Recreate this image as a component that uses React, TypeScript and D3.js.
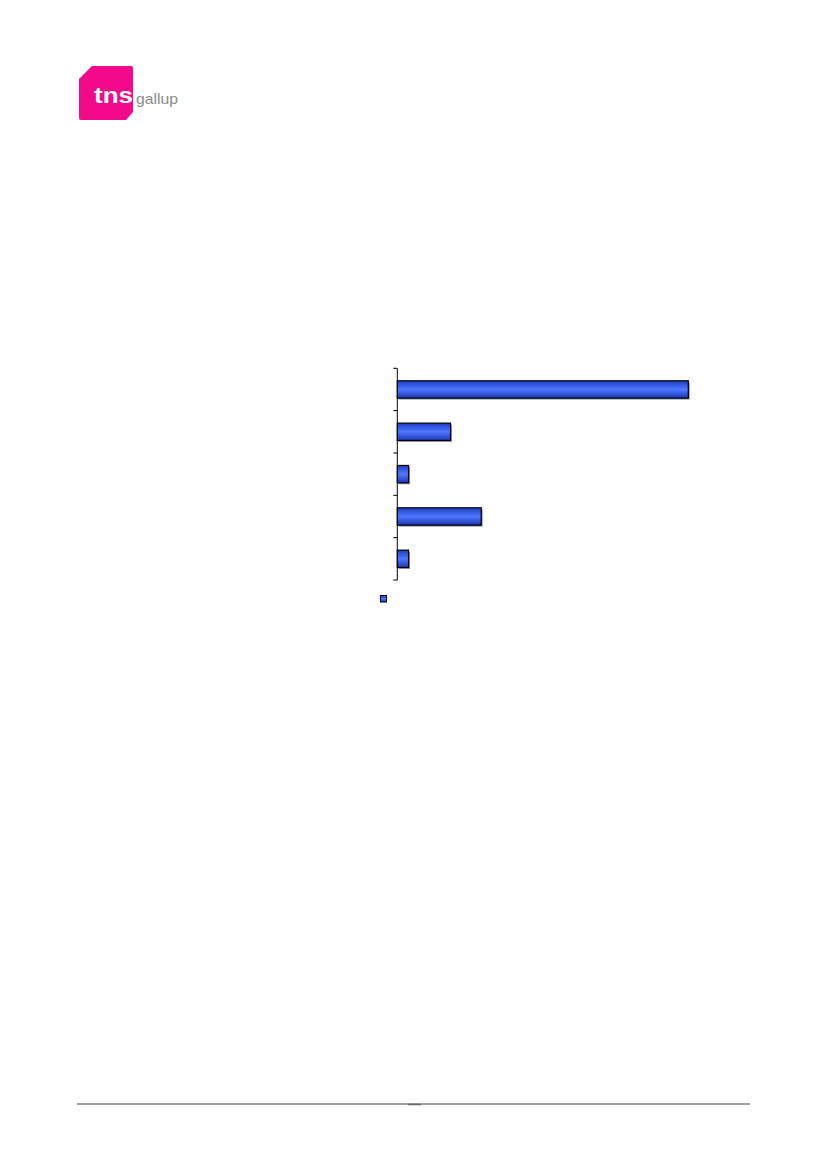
import React from "react";
import * as d3 from "d3";

const categories = ["c1", "c2", "c3", "c4", "c5"];
const values = [64.5, 11.8, 2.5, 18.6, 2.5];
const seriesName = [""];

const W = 826;
const H = 1169;

export default function App() {
  const axisX = 397.3;
  const top = 368.3;
  const bottom = 580;
  const x = d3.scaleLinear().domain([0, 100]).range([axisX, axisX + 451.2]);
  const y = d3
    .scaleBand<string>()
    .domain(categories)
    .range([top, bottom])
    .paddingInner(0.59)
    .paddingOuter(0.295);
  const step = (bottom - top) / categories.length;
  const tickYs = d3.range(categories.length + 1).map((i) => top + i * step);

  return (
    <svg
      width={W}
      height={H}
      style={{ position: "absolute", left: 0, top: 0 }}
      xmlns="http://www.w3.org/2000/svg"
    >
      <defs>
        <linearGradient id="barGrad" x1="0" y1="0" x2="0" y2="1">
          <stop offset="0%" stopColor="#1e3cc4" />
          <stop offset="50%" stopColor="#4f78ff" />
          <stop offset="100%" stopColor="#1a36b4" />
        </linearGradient>
      </defs>
      <rect x={0} y={0} width={W} height={H} fill="#ffffff" />

      {/* logo */}
      <path
        d="M92,66 L131,66 Q133,66 133,68 L133,112 L126,120 L81,120 Q79,120 79,118 L79,79 Z"
        fill="#f20a8a"
      />
      <text
        x={94}
        y={103}
        fill="#ffffff"
        fontFamily="Liberation Sans, Arial, sans-serif"
        fontWeight="bold"
        fontSize={22}
        textLength={39}
        lengthAdjust="spacingAndGlyphs"
      >
        tns
      </text>
      <text
        x={136}
        y={104}
        fill="#8a8a8a"
        fontFamily="Liberation Sans Narrow, Liberation Sans, Arial, sans-serif"
        fontSize={15}
        textLength={42}
        lengthAdjust="spacingAndGlyphs"
      >
        gallup
      </text>

      {/* bars */}
      {categories.map((c, i) => {
        const by = y(c) as number;
        const bw = x(values[i]) - x(0);
        return (
          <g key={c}>
            <rect
              x={x(0) + 1.5}
              y={by + 1.5}
              width={bw}
              height={y.bandwidth()}
              fill="#9a9ab4"
            />
            <rect
              x={x(0)}
              y={by}
              width={bw}
              height={y.bandwidth()}
              fill="url(#barGrad)"
              stroke="#000"
              strokeWidth={1.2}
            />
          </g>
        );
      })}

      {/* axis */}
      <line x1={axisX} x2={axisX} y1={top} y2={bottom} stroke="#000" strokeWidth={1} />
      {tickYs.map((ty, i) => (
        <line key={i} x1={axisX - 4} x2={axisX} y1={ty} y2={ty} stroke="#000" strokeWidth={1} />
      ))}

      {/* legend */}
      {seriesName.map((s, i) => (
        <g key={i}>
          <rect x={380.5} y={595.5} width={6} height={6.5} fill="url(#barGrad)" stroke="#000" strokeWidth={1} />
          <text x={392} y={602} fontSize={10} fontFamily="Liberation Sans, Arial, sans-serif">
            {s}
          </text>
        </g>
      ))}

      {/* footer */}
      <line x1={77} x2={750} y1={1104} y2={1104} stroke="#a0a0a0" strokeWidth={2} />
      <line x1={408} x2={421} y1={1104.5} y2={1104.5} stroke="#6a6a6a" strokeWidth={1.5} />
    </svg>
  );
}
